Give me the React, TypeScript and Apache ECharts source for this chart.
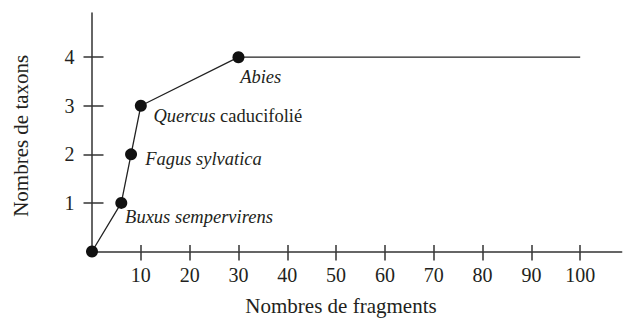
import React, { useEffect, useRef } from 'react';
import * as echarts from 'echarts';

const fragments = [0, 6, 8, 10, 30, 100];
const taxons = [0, 1, 2, 3, 4, 4];
const taxonItalic = ['', 'Buxus sempervirens', 'Fagus sylvatica', 'Quercus', 'Abies', ''];
const taxonRoman = ['', '', '', ' caducifolié', '', ''];
const labelOffsets = [
  [0, 0],
  [3.8, 13.6],
  [14.1, 4.5],
  [12.6, 9.8],
  [1.7, 19.3],
  [0, 0],
];
const xTicks = [10, 20, 30, 40, 50, 60, 70, 80, 90, 100];
const yTicks = [1, 2, 3, 4];
const xTitle = 'Nombres de fragments';
const yTitle = 'Nombres de taxons';

const FONT = '"Liberation Serif", "Times New Roman", serif';
const INK = '#231f20';
const AXIS = '#333333';
const SYM = 12;

export default function App() {
  const ref = useRef<HTMLDivElement>(null);

  useEffect(() => {
    document.body.style.margin = '0';
    if (!ref.current) return;
    const chart = echarts.init(ref.current, undefined, { renderer: 'svg' });

    const last = fragments.length - 1;
    const data = fragments.map((x, i) => {
      const hasLabel = taxonItalic[i] !== '';
      const item: any = {
        value: [x, taxons[i]],
        symbol: i === last ? 'none' : 'circle',
      };
      if (hasLabel) {
        item.label = {
          show: true,
          position: [labelOffsets[i][0] + SYM / 2, labelOffsets[i][1] + SYM / 2],
          align: 'left',
          verticalAlign: 'middle',
          formatter: taxonRoman[i] ? `{i|${taxonItalic[i]}}{n|${taxonRoman[i]}}` : `{i|${taxonItalic[i]}}`,
          rich: {
            i: { fontFamily: FONT, fontStyle: 'italic', fontSize: 18.5, color: INK },
            n: { fontFamily: FONT, fontStyle: 'normal', fontSize: 18.5, color: INK },
          },
        };
      }
      return item;
    });

    const xMin = 0;
    const xMax = 108.5;
    const yMin = 0;
    const yMax = 4.91;

    const commonX = {
      type: 'value',
      min: xMin,
      max: xMax,
      position: 'bottom',
      splitLine: { show: false },
    };
    const commonY = {
      type: 'value',
      min: yMin,
      max: yMax,
      position: 'left',
      splitLine: { show: false },
    };

    chart.setOption({
      animation: false,
      grid: { left: 92, right: 2.3, top: 13, bottom: 68.5, containLabel: false, outerBoundsMode: 'none' },
      xAxis: [
        {
          ...commonX,
          axisLine: { show: true, lineStyle: { color: AXIS, width: 1.5 } },
          axisTick: { show: true, inside: false, length: 9, customValues: xTicks, lineStyle: { color: AXIS, width: 1.5 } },
          axisLabel: {
            show: true,
            customValues: xTicks,
            margin: 13,
            fontFamily: FONT,
            fontSize: 20,
            color: INK,
          },
        },
        {
          ...commonX,
          axisLine: { show: false },
          axisTick: { show: true, inside: true, length: 6.5, customValues: xTicks, lineStyle: { color: AXIS, width: 1.5 } },
          axisLabel: { show: false },
        },
      ],
      yAxis: [
        {
          ...commonY,
          axisLine: { show: true, lineStyle: { color: AXIS, width: 1.5 } },
          axisTick: { show: true, inside: false, length: 8.5, customValues: yTicks, lineStyle: { color: AXIS, width: 1.5 } },
          axisLabel: {
            show: true,
            customValues: yTicks,
            margin: 17.5,
            fontFamily: FONT,
            fontSize: 20,
            color: INK,
          },
        },
        {
          ...commonY,
          axisLine: { show: false },
          axisTick: { show: true, inside: true, length: 11.5, customValues: yTicks, lineStyle: { color: AXIS, width: 1.5 } },
          axisLabel: { show: false },
        },
      ],
      graphic: [
        {
          type: 'text',
          x: 341,
          y: 306,
          style: {
            text: xTitle,
            fontFamily: FONT,
            fontSize: 21,
            fill: INK,
            align: 'center',
            verticalAlign: 'middle',
          },
        },
        {
          type: 'text',
          x: 20.6,
          y: 135.8,
          rotation: Math.PI / 2,
          style: {
            text: yTitle,
            fontFamily: FONT,
            fontSize: 21,
            fill: INK,
            align: 'center',
            verticalAlign: 'middle',
          },
        },
      ],
      series: [
        {
          type: 'line',
          xAxisIndex: 0,
          yAxisIndex: 0,
          data,
          symbolSize: SYM,
          showSymbol: true,
          clip: false,
          itemStyle: { color: '#111111' },
          lineStyle: { color: '#222222', width: 1.3 },
          emphasis: { disabled: true },
        },
      ],
    });

    return () => {
      chart.dispose();
    };
  }, []);

  return <div ref={ref} style={{ width: 624, height: 320 }} />;
}
